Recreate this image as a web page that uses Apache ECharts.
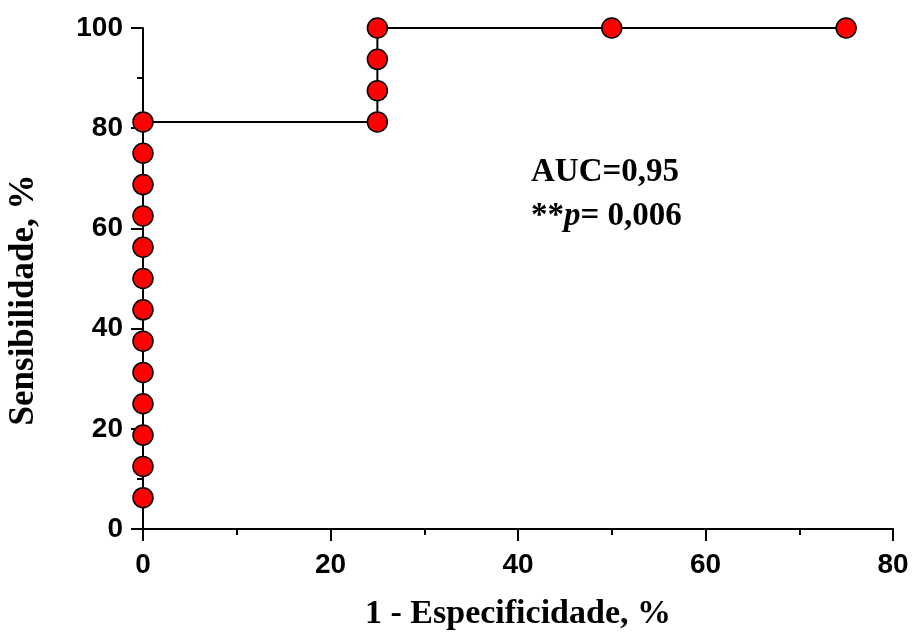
<!DOCTYPE html>
<html><head><meta charset="utf-8">
<script src="https://cdn.jsdelivr.net/npm/echarts@6/dist/echarts.min.js"></script>
<style>html,body{margin:0;padding:0;background:#fff}#c{width:915px;height:636px}</style>
</head><body><div id="c"></div>
<script>
const xValues = [0,0,0,0,0,0,0,0,0,0,0,0,0,0,25,25,25,25,50,75];
const yValues = [0,6.25,12.5,18.75,25,31.25,37.5,43.75,50,56.25,62.5,68.75,75,81.25,81.25,87.5,93.75,100,100,100];
const markerShown = [false,true,true,true,true,true,true,true,true,true,true,true,true,true,true,true,true,true,true,true];
const xTicks = [0,20,40,60,80];
const yTicks = [0,20,40,60,80,100];
const xTitle = '1 - Especificidade, %';
const yTitle = 'Sensibilidade, %';

const chart = echarts.init(document.getElementById('c'));
const data = xValues.map((x,i)=>({value:[x,yValues[i]], symbolSize: markerShown[i]?20:0}));
const labelFont = {color:'#000', fontFamily:'Liberation Sans, Arial', fontWeight:'bold', fontSize:28};
const titleFont = {color:'#000',fontFamily:'Liberation Serif, Times New Roman',fontWeight:'bold',fontSize:34};
chart.setOption({
  animation:false,
  grid:{left:143,right:22,top:28,bottom:107,containLabel:false,outerBoundsMode:'none'},
  xAxis:{type:'value',min:0,max:80,interval:20,
    axisLine:{onZero:false,lineStyle:{color:'#000',width:2}},
    axisTick:{length:12,lineStyle:{color:'#000',width:2}},
    minorTick:{show:true,splitNumber:2,length:6,lineStyle:{color:'#000',width:2}},
    splitLine:{show:false},
    axisLabel:Object.assign({margin:22, formatter:v=>xTicks.includes(v)?String(v):''},labelFont),
    name:xTitle,nameLocation:'middle',nameGap:68,nameTextStyle:titleFont},
  yAxis:{type:'value',min:0,max:100,interval:20,
    axisLine:{onZero:false,lineStyle:{color:'#000',width:2}},
    axisTick:{length:12,lineStyle:{color:'#000',width:2}},
    minorTick:{show:true,splitNumber:2,length:6,lineStyle:{color:'#000',width:2}},
    splitLine:{show:false},
    axisLabel:Object.assign({margin:20, formatter:v=>yTicks.includes(v)?String(v):''},labelFont)},
  series:[{type:'line',data:data,symbol:'circle',showAllSymbol:true,
    lineStyle:{color:'#000',width:2},
    itemStyle:{color:'#ff0000',borderColor:'#000',borderWidth:1.5},
    z:3}],
  graphic:[
    {type:'text',x:24,y:300,rotation:Math.PI/2,style:{
      text:yTitle,fill:'#000',font:'bold 35px "Liberation Serif", "Times New Roman"',
      align:'center',verticalAlign:'middle'}},
    {type:'text',left:531,top:150,style:{
    text:'AUC=0,95\n{n|**}{i|p}{n|= 0,006}',
    fill:'#000',font:'bold 33px "Liberation Serif", "Times New Roman"',lineHeight:44,
    rich:{n:{fontFamily:'Liberation Serif',fontWeight:'bold',fontSize:33,fill:'#000',lineHeight:44},
          i:{fontFamily:'Liberation Serif',fontWeight:'bold',fontStyle:'italic',fontSize:33,fill:'#000',lineHeight:44}}}}]
});
</script></body></html>
